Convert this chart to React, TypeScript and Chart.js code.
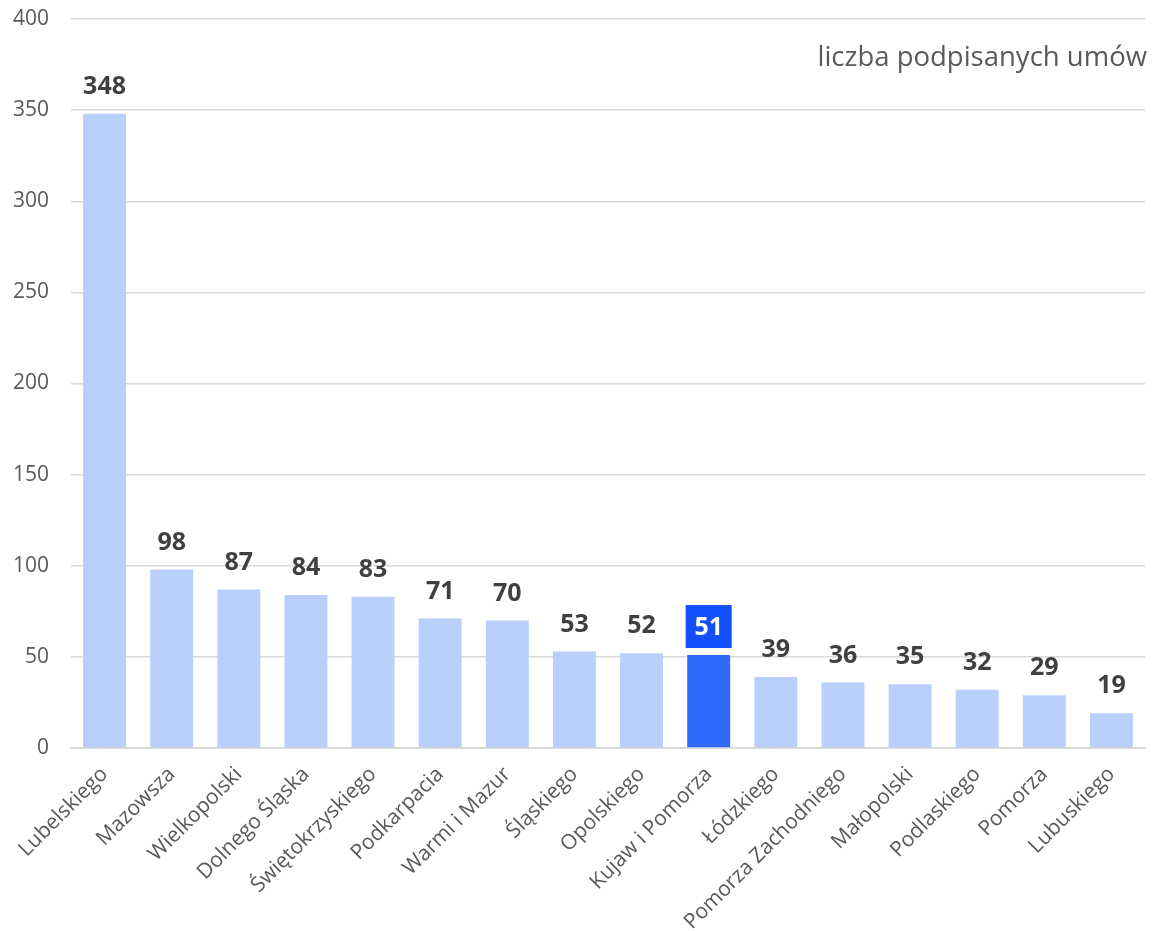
import React, { useEffect, useRef } from "react";
import { Chart, registerables } from "chart.js";

Chart.register(...registerables);

const categories = [
  "Lubelskiego",
  "Mazowsza",
  "Wielkopolski",
  "Dolnego Śląska",
  "Świętokrzyskiego",
  "Podkarpacia",
  "Warmi i Mazur",
  "Śląskiego",
  "Opolskiego",
  "Kujaw i Pomorza",
  "Łódzkiego",
  "Pomorza Zachodniego",
  "Małopolski",
  "Podlaskiego",
  "Pomorza",
  "Lubuskiego",
];
const values = [348, 98, 87, 84, 83, 71, 70, 53, 52, 51, 39, 36, 35, 32, 29, 19];
const highlightIndex = 9;
const yTicks = [0, 50, 100, 150, 200, 250, 300, 350, 400];
const unitLabel = "liczba podpisanych umów";

const FONT = "'Open Sans', 'Noto Sans', sans-serif";
const LIGHT = "#B9CFFC";
const DARK = "#2E6BFA";
const LABEL_BOX = "#1450FA";

export default function App() {
  const ref = useRef<HTMLCanvasElement | null>(null);

  useEffect(() => {
    if (!ref.current) return;
    const labelPlugin = {
      id: "valueLabels",
      afterDatasetsDraw(chart: any) {
        const ctx = chart.ctx;
        const meta = chart.getDatasetMeta(0);
        ctx.save();
        ctx.font = `bold 25px ${FONT}`;
        ctx.textAlign = "center";
        ctx.textBaseline = "middle";
        meta.data.forEach((bar: any, i: number) => {
          const x = bar.x;
          const y = bar.y - 28;
          const txt = String(values[i]);
          if (i === highlightIndex) {
            ctx.fillStyle = LABEL_BOX;
            ctx.fillRect(x - 23, y - 22, 46, 43);
            ctx.fillStyle = "#FFFFFF";
          } else {
            ctx.fillStyle = "#404040";
          }
          ctx.fillText(txt, x, y + 1);
        });
        const area = chart.chartArea;
        ctx.font = `27.5px ${FONT}`;
        ctx.textAlign = "right";
        ctx.fillStyle = "#595959";
        ctx.fillText(unitLabel, area.right + 2, 58);
        ctx.restore();
      },
    };

    const chart = new Chart(ref.current, {
      type: "bar",
      data: {
        labels: categories,
        datasets: [
          {
            data: values,
            backgroundColor: values.map((_, i) => (i === highlightIndex ? DARK : LIGHT)),
            barPercentage: 0.64,
            categoryPercentage: 1,
          },
        ],
      },
      options: {
        animation: false,
        responsive: false,
        maintainAspectRatio: false,
        layout: { padding: { left: 0, right: 8, top: 19, bottom: 0 } },
        plugins: {
          legend: { display: false },
          tooltip: { enabled: false },
          title: { display: false },
        },
        scales: {
          x: {
            grid: { display: false },
            border: { display: true, color: "#D9D9D9", width: 2 },
            ticks: {
              color: "#595959",
              font: { family: FONT, size: 21 },
              maxRotation: 45,
              minRotation: 45,
              autoSkip: false,
              padding: 6,
            },
            afterFit(scale: any) {
              scale.height = 931 - 748;
              scale.paddingLeft = 0;
              scale.paddingRight = 0;
              scale.paddingTop = 0;
              scale.paddingBottom = 0;
            },
          },
          y: {
            min: 0,
            max: 400,
            afterBuildTicks(scale: any) {
              scale.ticks = yTicks.map((v) => ({ value: v }));
            },
            grid: { color: "#D9D9D9", lineWidth: 1.5, drawTicks: false },
            border: { display: false },
            ticks: {
              color: "#595959",
              font: { family: FONT, size: 21 },
              padding: 22,
            },
            afterFit(scale: any) {
              scale.width = 71;
              scale.paddingTop = 0;
              scale.paddingBottom = 0;
              scale.paddingLeft = 0;
              scale.paddingRight = 0;
            },
          },
        },
      },
      plugins: [labelPlugin],
    });
    return () => chart.destroy();
  }, []);

  return (
    <div style={{ position: "absolute", left: 0, top: 0, width: 1153, height: 931, background: "#fff" }}>
      <canvas ref={ref} width={1153} height={931} style={{ width: 1153, height: 931 }} />
    </div>
  );
}
